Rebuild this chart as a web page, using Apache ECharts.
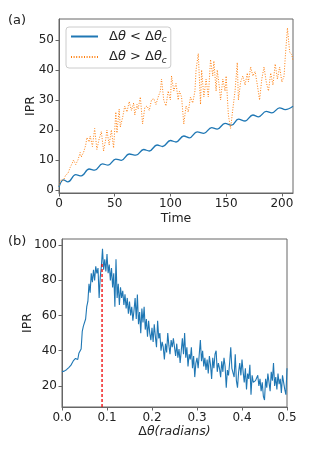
<!DOCTYPE html>
<html><head><meta charset="utf-8">
<script src="https://cdn.jsdelivr.net/npm/echarts@6/dist/echarts.min.js"></script>
<style>html,body{margin:0;padding:0;background:#fff}#c{width:332px;height:453px}</style>
</head><body><div id="c"></div>
<script>
// ---- panel (a) data ----
const blueT = [0,4,8,15,20,27,32,39,44,51,56,63,69,76,81,88,93,100,105,112,117,124,130,137,142,149,155,161,167,174,179,186,191,198,203,210];
const blueV = [1.0,3.4,2.7,5.1,4.7,7.0,6.6,8.7,8.3,10.3,9.9,12.0,11.6,13.5,13.0,15.0,14.5,16.5,16.0,18.0,17.4,19.4,18.9,20.8,20.3,22.2,21.6,23.6,23.0,25.0,24.4,26.2,25.7,27.4,26.8,27.9];
const orangeT = [0,2,4,6,8,10,12,13,15,17,19,20,22,24,25,27,28,30,32,34,36,38,40,42,43,45,47,49,51,52,54,55,57,59,61,63,65,67,68,70,71,73,75,77,79,81,83,85,87,89,91,92,94,96,98,100,101,103,105,107,108,110,112,114,116,118,120,122,123,125,127,128,130,132,134,136,138,139,141,142,144,145,147,149,150,152,154,156,158,160,161,163,165,167,169,170,172,174,176,178,180,182,184,186,188,190,192,194,196,198,200,202,203,205,207,209,210];
const orangeV = [1.5,3.5,3.2,5,5.5,7.5,9,10,8.5,10,12.5,11,12.5,15,17.5,16,18,14.5,20.5,13.5,17,19.5,13,17,20,15,20,14,26,19,27,21,24,28,26,29.5,26.5,29,25,28.5,27,31,22,27.5,28,26.5,30,30.5,28.5,31,33,37,30,28,33,30,38,33,35.5,30,33,31,22,28,26,31,29,33,40,45.5,28.5,40,31,37,31,43.5,38,43,33,40,34,30,37,33,38,25,20.5,27,33,42.5,30,36,38,35,39,36,41,38,39.5,35,30,37,41,36,33,39,35,42,37,41,36,38,44,54,46,45,43];
const xTicksA = [0,50,100,150,200];
const yTicksA = [0,10,20,30,40,50];

// ---- panel (b) data ----
const dthetaStep = 0.0025;
const iprB = [
 28,28.1,28.4,28.8,29.2,29.8,30.4,31,31.8,33,34.2,33.5,35.6,36.5,35,38.5,39,41,51,54,
 55,58,65,68,78,73,84,79,86,80,88,84,87,70,82,88,98,86,92,85,
 95,84,89,80,87,76,84,65,92,70,78,66,76,70,74,66,72,64,70,61,
 68,60,65,57,63,70,58,72,55,62,50,64,56,65,52,58,48,57,50,46,
 53,45,55,48,42,57,47,50,40,45,42,35,44,39,50,43,38,46,42,47,
 48,37,44,36,41,33,40,47,38,50,36,42,31,38,35,42,30,37,25,33,
 36,30,38,46,34,40,31,36,29,35,27,37,32,24,36,30,38,40,28,33,
 30,25,34,28,36,31,19,29,26,33,42,30,31,25,38,23,19,28,33,26,
 35,28,22,30,18,27,24,32,15,26,22,21,23,22,26,20,24,17,22,14,
 12,24,19,27,22,17,28,23,33,20,25,18,27,21,24,16,26,22,18,15,30
];
const criticalX = 0.089;
const criticalTop = 90;
const xTicksB = [0,0.1,0.2,0.3,0.4,0.5];
const yTicksB = [20,40,60,80,100];

const F = 'DejaVu Sans';
const axisCol = '#666';
const txt = '#222';

function mkAxis(opt){
  return Object.assign({
    axisLine:{show:true,onZero:false,lineStyle:{color:axisCol,width:1}},
    axisTick:{show:true,inside:false,length:3.5,lineStyle:{color:axisCol}},
    axisLabel:{color:txt,fontSize:12,fontFamily:F,margin:5},
    splitLine:{show:false},
    nameMoveOverlap:false,
    nameTextStyle:{color:txt,fontSize:12.5,fontFamily:F}
  }, opt);
}
function ticks(obj, vals, fmt){
  obj.axisTick.customValues = vals;
  obj.axisLabel.customValues = vals;
  if(fmt) obj.axisLabel.formatter = fmt;
  return obj;
}

const xA = ticks(mkAxis({type:'value',gridIndex:0,min:0,max:210,name:'Time',nameLocation:'middle',nameGap:19}), xTicksA);
const yA = ticks(mkAxis({type:'value',gridIndex:0,min:-1,max:57,name:'IPR',nameLocation:'middle',nameGap:22}), yTicksA);
const xB = ticks(mkAxis({type:'value',gridIndex:1,min:0,max:0.5,name:'Δ{i|θ}{i|(radians)}',nameLocation:'middle',nameGap:18}), xTicksB, v=>v.toFixed(1));
xB.nameTextStyle.rich = {i:{fontStyle:'italic',fontSize:12.5,fontFamily:F,color:txt}};
const yB = ticks(mkAxis({type:'value',gridIndex:1,min:8,max:103.5,name:'IPR',nameLocation:'middle',nameGap:28}), yTicksB);

const blueData = blueT.map((t,i)=>[t,blueV[i]]);
const orangeData = orangeT.map((t,i)=>[t,orangeV[i]]);
const bData = iprB.map((v,i)=>[i*dthetaStep,v]);

const chart = echarts.init(document.getElementById('c'),null,{renderer:'canvas'});
chart.setOption({
  animation:false,
  backgroundColor:'#fff',
  grid:[
    {left:59,top:19,width:234,height:174,show:true,borderColor:axisCol,borderWidth:1,backgroundColor:'transparent'},
    {left:62,top:239,width:225,height:168,show:true,borderColor:axisCol,borderWidth:1,backgroundColor:'transparent'}
  ],
  xAxis:[xA,xB],
  yAxis:[yA,yB],
  legend:{
    left:66,top:27,orient:'vertical',
    itemWidth:27,itemHeight:14,itemGap:6,
    padding:[3,4,3,4],
    borderColor:'#ccc',borderWidth:1,borderRadius:3,backgroundColor:'rgba(255,255,255,0.8)',
    itemStyle:{opacity:0},
    data:['lt','gt'],
    formatter:n=> n==='lt' ? 'Δ{i|θ} < Δ{i|θ}{s|c}' : 'Δ{i|θ} > Δ{i|θ}{s|c}',
    textStyle:{color:txt,fontSize:13,fontFamily:F,padding:[0,0,0,6],
      rich:{i:{fontStyle:'italic',fontSize:13,fontFamily:F,color:txt},
            s:{fontStyle:'italic',fontSize:9,fontFamily:F,color:txt,padding:[7,0,0,0]}}}
  },
  graphic:[
    {type:'text',left:8,top:14,style:{text:'(a)',font:'13px "DejaVu Sans"',fill:txt}},
    {type:'text',left:8,top:235,style:{text:'(b)',font:'13px "DejaVu Sans"',fill:txt}}
  ],
  series:[
    {name:'lt',type:'line',xAxisIndex:0,yAxisIndex:0,data:blueData,symbol:'none',smooth:0.4,
      lineStyle:{color:'#1f77b4',width:1.3},itemStyle:{color:'#1f77b4'}},
    {name:'gt',type:'line',xAxisIndex:0,yAxisIndex:0,data:orangeData,symbol:'none',
      lineStyle:{color:'#ff7f0e',width:1,type:[1,1.6]},itemStyle:{color:'#ff7f0e'}},
    {name:'b',type:'line',xAxisIndex:1,yAxisIndex:1,data:bData,symbol:'none',
      lineStyle:{color:'#1f77b4',width:1.1}},
    {name:'crit',type:'line',xAxisIndex:1,yAxisIndex:1,data:[[criticalX,8],[criticalX,criticalTop]],symbol:'none',
      lineStyle:{color:'#e00',width:1.3,type:[3,2]},z:5}
  ]
});
</script></body></html>
